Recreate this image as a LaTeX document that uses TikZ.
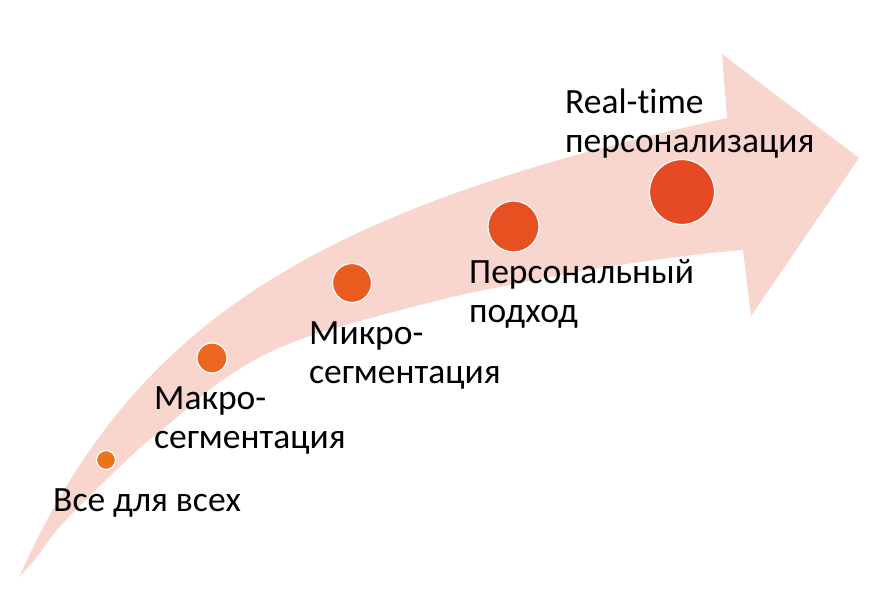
\documentclass[tikz,border=0pt]{standalone}
\usepackage{fontspec}
\setmainfont[Ligatures=NoCommon]{Carlito}
\definecolor{arrowpink}{HTML}{F8D5CD}
\definecolor{dotA}{HTML}{EE7219}
\definecolor{dotB}{HTML}{EB661E}
\definecolor{dotC}{HTML}{E95C20}
\definecolor{dotD}{HTML}{E75122}
\definecolor{dotE}{HTML}{E64A25}
\tikzset{
  lbl/.style={anchor=base west, align=left, inner sep=0pt, font=\fontsize{35.5}{39}\selectfont},
  dot/.style={circle, draw=white, line width=1.2pt, inner sep=0pt, minimum size=#1}
}
\begin{document}
\begin{tikzpicture}[x=1pt,y=-1pt]
\useasboundingbox (0,0) rectangle (881,590);
\fill[arrowpink] (19,577) .. controls (133,324) and (310,209.5) .. (727,118)
  -- (722,54) -- (859,158) -- (751,316) -- (743,250)
  -- plot[smooth, tension=0.6] coordinates {(743,250) (693,255) (600,268) (520,283) (440,300) (307,337) (233,373) (170,423) (130,457) (63,523) (37,557) (19,577)}
  -- cycle;
\node[dot=19pt, fill=dotA] (d1) at (106,460) {};
\node[dot=30pt, fill=dotB] (d2) at (212,358) {};
\node[dot=39pt, fill=dotC] (d3) at (352,283) {};
\node[dot=51pt, fill=dotD] (d4) at (513.5,226.5) {};
\node[dot=65pt, fill=dotE] (d5) at (682,192) {};
\node[lbl] (t1) at (53,511) {Все для всех};
\node[lbl] (t2) at (154,448) {Макро-\\сегментация};
\node[lbl] (t3) at (309,383) {Микро-\\сегментация};
\node[lbl] (t4) at (469,322) {Персональный\\подход};
\node[lbl] (t5) at (565,152) {Real-time\\персонализация};
\end{tikzpicture}
\end{document}
